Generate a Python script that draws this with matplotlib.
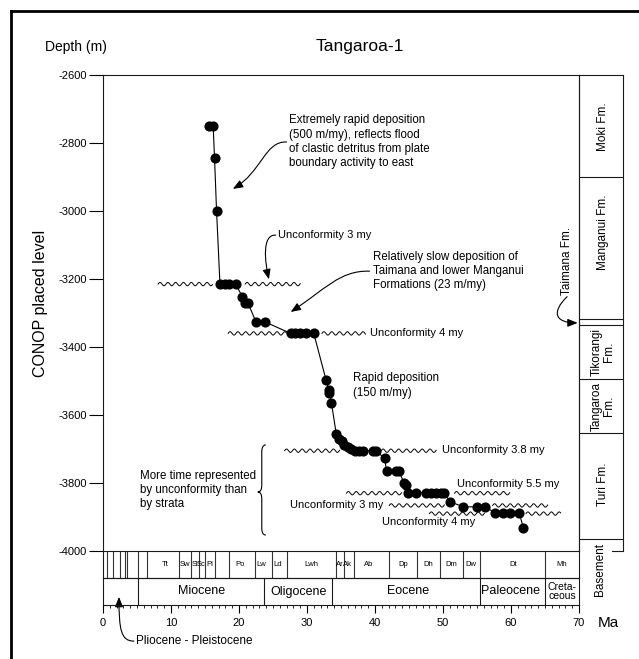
import matplotlib
matplotlib.use('Agg')
import matplotlib.pyplot as plt
import numpy as np
from matplotlib.path import Path
from matplotlib.patches import FancyArrowPatch, PathPatch
from matplotlib.lines import Line2D
from matplotlib.ticker import MultipleLocator

plt.rcParams['font.family'] = ['Liberation Sans', 'DejaVu Sans']
plt.rcParams['axes.unicode_minus'] = False

# CONOP placed levels (age in Ma, level in m)
age = [15.6, 16.2, 16.4, 16.7, 17.2, 17.9, 18.6, 19.5, 20.5, 20.9, 21.3, 22.5, 23.8,
       27.6, 28.3, 29.0, 29.9, 31.0, 32.8, 33.2, 33.3, 33.6, 34.3, 34.7, 35.2, 35.5,
       36.0, 36.5, 37.0, 37.6, 38.2, 39.7, 40.1, 41.4, 41.7, 43.1, 43.5, 44.3, 44.6,
       44.8, 46.0, 47.5, 48.3, 49.0, 49.7, 50.2, 51.0, 53.0, 55.0, 56.2, 57.6, 58.8,
       59.8, 61.2, 61.8]
level = [-2750, -2750, -2843, -3000, -3215, -3215, -3215, -3215, -3252, -3270, -3270,
         -3326, -3326, -3360, -3360, -3360, -3360, -3360, -3497, -3526, -3534, -3564,
         -3656, -3672, -3676, -3688, -3695, -3701, -3705, -3705, -3705, -3705, -3705,
         -3727, -3764, -3764, -3764, -3801, -3806, -3828, -3828, -3828, -3828, -3828,
         -3828, -3828, -3855, -3870, -3870, -3870, -3887, -3887, -3887, -3887, -3931]

# unconformity wavy lines: start Ma, end Ma, level
unc_start = [8.1, 20.9, 18.4, 32.2, 26.7, 40.9, 35.8, 51.7, 42.1, 57.3, 48.0, 62.2]
unc_end = [16.1, 29.0, 27.0, 38.6, 34.8, 49.0, 43.9, 59.8, 50.2, 65.4, 56.1, 67.3]
unc_level = [-3215, -3215, -3360, -3360, -3705, -3705, -3830, -3830, -3866, -3866, -3890, -3890]

unc_text = ['Unconformity 3 my', 'Unconformity 4 my', 'Unconformity 3.8 my',
            'Unconformity 5.5 my', 'Unconformity 3 my', 'Unconformity 4 my']
unc_text_x = [25.7, 39.2, 49.8, 52.0, 27.5, 41.0]
unc_text_y = [-3071, -3360, -3703, -3803, -3865, -3915]

# NZ stages
stage_bounds = [0.55, 1.5, 2.5, 3.2, 3.6, 5.2, 6.5, 11.2, 12.9, 14.1, 15.0, 16.4, 18.5,
                22.3, 24.8, 27.1, 34.3, 35.4, 36.9, 42.0, 46.2, 49.5, 52.9, 55.4, 65.0]
stage_names = ['Tt', 'Sw', 'Sl', 'Sc', 'Pl', 'Po', 'Lw', 'Ld', 'Lwh', 'Ar', 'Ak', 'Ab',
               'Dp', 'Dh', 'Dm', 'Dw', 'Dt', 'Mh']
stage_mid = [9.1, 12.0, 13.5, 14.5, 15.7, 20.1, 23.3, 25.7, 30.6, 34.8, 36.0, 39.0,
             44.1, 47.8, 51.2, 54.1, 60.3, 67.5]

epoch_bounds = [5.2, 23.7, 33.7, 55.4, 65.0]
epoch_names = ['Miocene', 'Oligocene', 'Eocene', 'Paleocene']
epoch_mid = [14.5, 28.8, 44.8, 60.0]

# formations (level boundaries)
fm_bounds = [-2900, -3318, -3335, -3495, -3654, -3966]
fm_names = ['Moki Fm.', 'Manganui Fm.', 'Tikorangi\nFm.', 'Tangaroa\nFm.', 'Turi Fm.']
fm_mid = [-2753, -3062, -3415, -3574, -3803]

W, H = 639, 659
fig = plt.figure(figsize=(W / 100, H / 100), dpi=100)


def box(l, t, r, b):
    return [l / W, 1 - b / H, (r - l) / W, (b - t) / H]


ax = fig.add_axes(box(103, 75, 579, 551))
ax_st = fig.add_axes(box(103, 551, 579, 578))
ax_ep = fig.add_axes(box(103, 578, 579, 605))
ax_fm = fig.add_axes(box(579, 75, 623, 551))

lc = '#1a1a1a'
for a in (ax, ax_st, ax_ep, ax_fm):
    a.patch.set_visible(False)
    for s in a.spines.values():
        s.set_linewidth(0.8)
        s.set_color(lc)

# main plot
ax.set_xlim(0, 70)
ax.set_ylim(-4000, -2600)
ax.spines['bottom'].set_visible(False)
ax.set_xticks([])
ax.set_yticks(range(-4000, -2599, 200))
ax.tick_params(axis='y', direction='out', length=10, width=0.8, pad=1.5, labelsize=8)

ax.plot(age, level, '-', color='k', lw=0.8, zorder=3)
ax.plot(age, level, 'o', color='k', ms=6.3, zorder=4)

for a0, a1, lv in zip(unc_start, unc_end, unc_level):
    xs = np.linspace(a0, a1, 200)
    ax.plot(xs, lv + 5 * np.sin(2 * np.pi * (xs - a0) / 1.15), color='k', lw=0.7)

for t, x, y in zip(unc_text, unc_text_x, unc_text_y):
    ax.text(x, y, t, fontsize=8, ha='left', va='center')

ax.text(27.3, -2796, 'Extremely rapid deposition\n(500 m/my), reflects flood\n'
        'of clastic detritus from plate\nboundary activity to east',
        fontsize=8.3, ha='left', va='center', linespacing=1.25)
ax.text(39.65, -3176, 'Relatively slow deposition of\nTaimana and lower Manganui\n'
        'Formations (23 m/my)', fontsize=8.3, ha='left', va='center', linespacing=1.25)
ax.text(36.76, -3513, 'Rapid deposition\n(150 m/my)', fontsize=8.3, ha='left',
        va='center', linespacing=1.25)
ax.text(5.43, -3821, 'More time represented\nby unconformity than\nby strata',
        fontsize=8.3, ha='left', va='center', linespacing=1.25)
ax.text(68.3, -3147, 'Taimana Fm.', fontsize=8.5, rotation=90, ha='center', va='center')


def curve_arrow(pts):
    codes = [Path.MOVETO, Path.CURVE4, Path.CURVE4, Path.CURVE4]
    arr = FancyArrowPatch(path=Path(pts, codes), arrowstyle='-|>,head_length=0.5,head_width=0.2',
                          mutation_scale=12, color='k', lw=0.8, transform=ax.transData,
                          clip_on=False, zorder=5)
    ax.add_patch(arr)


curve_arrow([(27.0, -2797), (23.8, -2794), (23.35, -2885), (19.1, -2935)])
curve_arrow([(25.4, -3071), (23.35, -3068), (23.8, -3150), (24.4, -3201)])
curve_arrow([(39.2, -3177), (34.8, -3174), (32.6, -3232), (27.6, -3297)])
curve_arrow([(68.25, -3252), (65.95, -3297), (66.4, -3329), (69.8, -3329)])
curve_arrow([(4.55, -4265), (2.64, -4265), (2.35, -4232), (2.35, -4135)])

# brace
bv = [(23.94, -3688), (23.5, -3688), (23.35, -3697), (23.35, -3709),
      (23.35, -3806), (23.35, -3818), (23.2, -3826.5), (22.76, -3826.5),
      (23.2, -3826.5), (23.35, -3835), (23.35, -3847),
      (23.35, -3932), (23.35, -3944), (23.5, -3953), (23.94, -3953)]
bc = [Path.MOVETO, Path.CURVE4, Path.CURVE4, Path.CURVE4,
      Path.LINETO, Path.CURVE4, Path.CURVE4, Path.CURVE4,
      Path.CURVE4, Path.CURVE4, Path.CURVE4,
      Path.LINETO, Path.CURVE4, Path.CURVE4, Path.CURVE4]
ax.add_patch(PathPatch(Path(bv, bc), fill=False, lw=0.8, color='k'))

# stage row
ax_st.set_xlim(0, 70)
ax_st.set_ylim(0, 1)
ax_st.set_xticks([])
ax_st.set_yticks([])
for b in stage_bounds:
    ax_st.axvline(b, color='#333333', lw=0.8)
for n, m in zip(stage_names, stage_mid):
    ax_st.text(m, 0.5, n, fontsize=5.5, ha='center', va='center')

# epoch row
ax_ep.set_xlim(0, 70)
ax_ep.set_ylim(0, 1)
ax_ep.set_yticks([])
for b in epoch_bounds:
    ax_ep.axvline(b, color=lc, lw=0.8)
for n, m in zip(epoch_names, epoch_mid):
    ax_ep.text(m, 0.5, n, fontsize=9, ha='center', va='center')
ax_ep.text(67.5, 0.5, 'Creta-\nceous', fontsize=7.5, ha='center', va='center', linespacing=0.8)
ax_ep.xaxis.set_major_locator(MultipleLocator(10))
ax_ep.xaxis.set_minor_locator(MultipleLocator(1))
ax_ep.tick_params(axis='x', which='major', direction='out', length=6, width=0.8,
                  pad=3, labelsize=8)
ax_ep.tick_params(axis='x', which='minor', direction='out', length=2.5, width=0.6)

# formation column
ax_fm.set_xlim(0, 1)
ax_fm.set_ylim(-4000, -2600)
ax_fm.set_xticks([])
ax_fm.set_yticks([])
ax_fm.spines['bottom'].set_visible(False)
for b in fm_bounds:
    ax_fm.axhline(b, color=lc, lw=0.8)
ax_fm.plot([0.75, 1], [-4000, -4000], color=lc, lw=0.8, clip_on=False)
for n, m in zip(fm_names, fm_mid):
    ax_fm.text(0.54, m, n, fontsize=8.5, rotation=90, ha='center', va='center',
               multialignment='center', linespacing=1.0)
fig.text(600 / W, 1 - 570 / H, 'Basement', fontsize=8.5, rotation=90, ha='center', va='center')

# titles and labels
fig.text(360 / W, 1 - 47 / H, 'Tangaroa-1', fontsize=12.5, ha='center', va='center')
fig.text(76 / W, 1 - 47 / H, 'Depth (m)', fontsize=10, ha='center', va='center')
fig.text(41 / W, 1 - 303 / H, 'CONOP placed level', fontsize=11.5, rotation=90,
         ha='center', va='center')
fig.text(598 / W, 1 - 623 / H, 'Ma', fontsize=11, ha='left', va='center')
fig.text(136 / W, 1 - 641 / H, 'Pliocene - Pleistocene', fontsize=8.5, ha='left', va='center')

# frame
fig.add_artist(Line2D([11 / W, 11 / W], [0, 1 - 11 / H], lw=2, color='k'))
fig.add_artist(Line2D([11 / W, 1], [1 - 11 / H, 1 - 11 / H], lw=2, color='k'))

fig.savefig('out.png', dpi=100)
